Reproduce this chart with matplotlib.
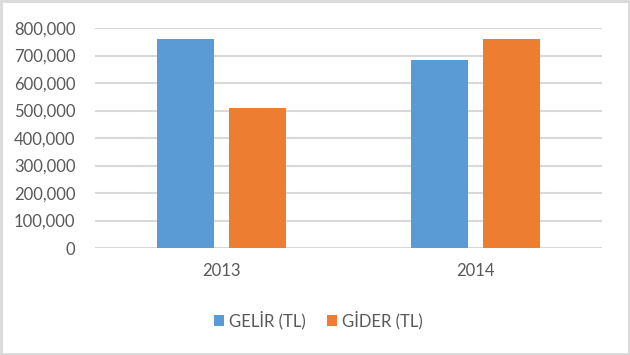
import matplotlib.pyplot as plt
import numpy as np
from matplotlib.patches import Rectangle
from matplotlib.ticker import FuncFormatter

# Chart data
years = ['2013', '2014']
gelir = [760000, 683000]
gider = [509000, 760000]
series_names = ['GELİR (TL)', 'GİDER (TL)']
colors = ['#5B9BD5', '#ED7D31']

plt.rcParams['font.family'] = ['Lato', 'DejaVu Sans']

fig = plt.figure(figsize=(6.3, 3.55), dpi=100)
ax = fig.add_axes([0.1508, 0.3014, 0.8048, 0.6197])

x = np.arange(len(years))
w = 0.225
off = 0.142
ax.bar(x - off, gelir, w, color=colors[0], label=series_names[0], zorder=3)
ax.bar(x + off, gider, w, color=colors[1], label=series_names[1], zorder=3)

ax.set_xlim(-0.5, 1.5)
ax.set_ylim(0, 800000)
ax.set_yticks(range(0, 800001, 100000))
ax.yaxis.set_major_formatter(FuncFormatter(lambda v, p: f'{int(v):,}'))
ax.set_xticks(x)
ax.set_xticklabels(years)

# Excel-like gridlines, no spines
ax.grid(axis='y', color='#D9D9D9', linewidth=1.5, zorder=0)
for s in ax.spines.values():
    s.set_visible(False)
ax.tick_params(axis='both', length=0, colors='#595959', labelsize=12)
ax.tick_params(axis='y', pad=14)
ax.tick_params(axis='x', pad=11)

leg = fig.legend(loc='center', bbox_to_anchor=(0.505, 0.099), ncol=2,
                 frameon=False, fontsize=12, handlelength=0.6,
                 handleheight=0.6, handletextpad=0.3, columnspacing=1.3)
for t in leg.get_texts():
    t.set_color('#595959')

# Light gray border around the chart
fig.patches.append(Rectangle((0.001, 0.002), 0.997, 0.995, transform=fig.transFigure,
                             fill=False, edgecolor='#D9D9D9', linewidth=2))

fig.savefig('out.png', dpi=100)
